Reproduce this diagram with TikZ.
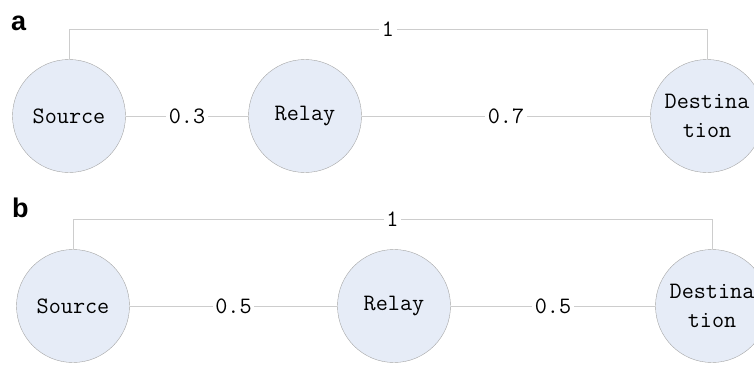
\documentclass[tikz,border=0pt]{standalone}
\usepackage{fontspec}
\newfontfamily\panelfont{Liberation Sans}
\usetikzlibrary{positioning}
\definecolor{nodefill}{RGB}{230,236,247}
\definecolor{nodeline}{RGB}{165,165,165}
\definecolor{linkline}{RGB}{205,205,205}
\tikzset{
  station/.style={circle, draw=nodeline, fill=nodefill, minimum size=113pt, inner sep=0pt,
    font=\fontsize{23.5}{29}\selectfont\ttfamily, align=center},
  link/.style={draw=linkline, line width=1pt},
  weight/.style={fill=white, inner sep=2.5pt, font=\fontsize{23.5}{25}\selectfont\ttfamily},
  panel/.style={anchor=base west, inner sep=0pt, font=\fontsize{27}{27}\selectfont\panelfont\bfseries}
}

\begin{document}
\begin{tikzpicture}[x=1pt,y=-1pt]
  \useasboundingbox (0,0) rectangle (754,364);
  % panel a: relay near the source
  \node[panel] (labA) at (11,30) {a};
  \node[station] (srcA) at (69,116) {Source};
  \node[station] (relA) at (305,116) {Relay};
  \node[station] (dstA) at (707,116) {Destina\\tion};
  \coordinate (topA) at (0,29);
  \draw[link] (srcA) -- node[weight] {0.3} (relA);
  \draw[link] (relA) -- node[weight] {0.7} (dstA);
  \draw[link] (srcA.north) -- (srcA.north |- topA) -- node[weight] {1} (dstA.north |- topA) -- (dstA.north);
  % panel b: relay in the middle
  \node[panel] (labB) at (12,217) {b};
  \node[station] (srcB) at (73,306) {Source};
  \node[station] (relB) at (394,306) {Relay};
  \node[station] (dstB) at (712,306) {Destina\\tion};
  \coordinate (topB) at (0,219);
  \draw[link] (srcB) -- node[weight] {0.5} (relB);
  \draw[link] (relB) -- node[weight] {0.5} (dstB);
  \draw[link] (srcB.north) -- (srcB.north |- topB) -- node[weight] {1} (dstB.north |- topB) -- (dstB.north);
\end{tikzpicture}
\end{document}
